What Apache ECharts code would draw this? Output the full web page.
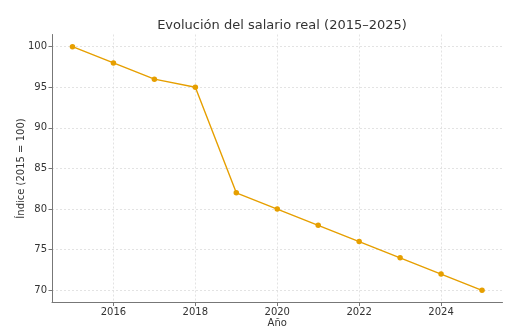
<!DOCTYPE html>
<html>
<head>
<meta charset="utf-8">
<script src="https://cdn.jsdelivr.net/npm/echarts@6/dist/echarts.min.js"></script>
<style>
  html, body { margin: 0; padding: 0; background: #fff; }
  #chart { width: 521px; height: 334px; }
</style>
</head>
<body>
<div id="chart"></div>
<script>
// Real wage index, 2015 = 100
const years = [2015, 2016, 2017, 2018, 2019, 2020, 2021, 2022, 2023, 2024, 2025];
const indexValues = [100, 98, 96, 95, 82, 80, 78, 76, 74, 72, 70];
const xTicks = [2016, 2018, 2020, 2022, 2024];
const yTicks = [70, 75, 80, 85, 90, 95, 100];

const font = 'DejaVu Sans';
const lineColor = '#E69F00';

const chart = echarts.init(document.getElementById('chart'), null, { renderer: 'canvas' });
chart.setOption({
  animation: false,
  title: {
    text: 'Evolución del salario real (2015–2025)',
    left: 277, top: 14, textAlign: 'center',
    textStyle: { fontFamily: font, fontSize: 13, fontWeight: 'normal', color: '#333' }
  },
  grid: { left: 52, right: 18.5, top: 34.5, bottom: 31.5, outerBoundsMode: 'none', containLabel: false },
  xAxis: {
    type: 'value',
    min: 2014.5, max: 2025.5,
    name: 'Año', nameLocation: 'middle', nameGap: 16, nameMoveOverlap: false,
    nameTextStyle: { fontFamily: font, fontSize: 10, color: '#333' },
    axisLine: { show: true, lineStyle: { color: '#777', width: 1 } },
    axisTick: { show: true, customValues: xTicks, length: 3.5, lineStyle: { color: '#777' } },
    axisLabel: { customValues: xTicks, formatter: v => String(v), fontFamily: font, fontSize: 10, color: '#333', margin: 5 },
    splitLine: { show: true, lineStyle: { color: '#dcdcdc', width: 0.8, type: [2, 2] } }
  },
  yAxis: {
    type: 'value',
    min: 68.5, max: 101.5,
    name: 'Índice (2015 = 100)', nameLocation: 'middle', nameGap: 26, nameRotate: 90, nameMoveOverlap: false,
    nameTextStyle: { fontFamily: font, fontSize: 10, color: '#333' },
    axisLine: { show: true, lineStyle: { color: '#777', width: 1 } },
    axisTick: { show: true, customValues: yTicks, length: 3.5, lineStyle: { color: '#777' } },
    axisLabel: { customValues: yTicks, fontFamily: font, fontSize: 10, color: '#333', margin: 5 },
    splitLine: { show: true, lineStyle: { color: '#dcdcdc', width: 0.8, type: [2, 2] } }
  },
  series: [{
    type: 'line',
    data: years.map((y, i) => [y, indexValues[i]]),
    symbol: 'circle', symbolSize: 5.5,
    lineStyle: { color: lineColor, width: 1.4 },
    itemStyle: { color: lineColor }
  }]
});
</script>
</body>
</html>
